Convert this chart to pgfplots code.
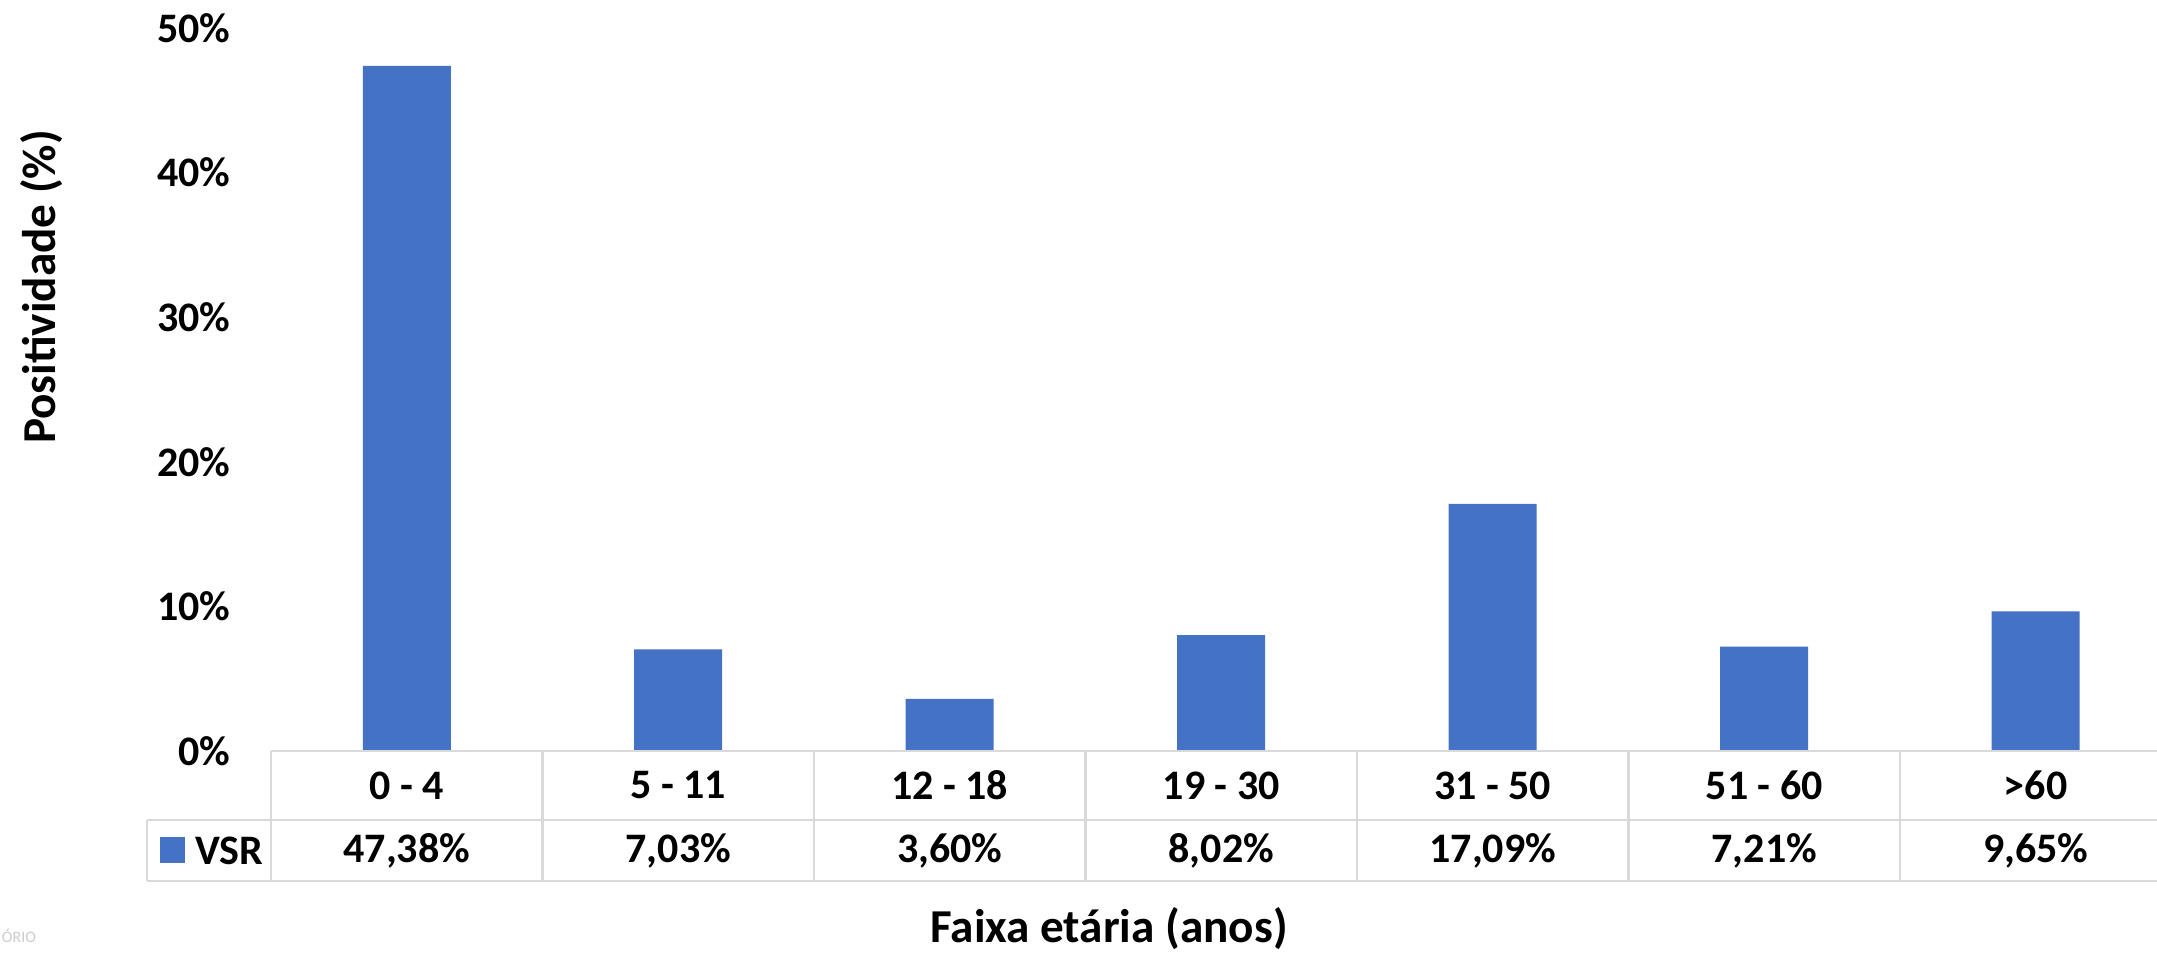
\documentclass[border=0pt]{standalone}
\usepackage{fontspec}
\setmainfont{Carlito}
\usepackage{pgfplots}
\usepackage{pgfplotstable}
\pgfplotsset{compat=1.18}
\definecolor{vsr}{HTML}{4472C4}
\definecolor{grade}{HTML}{D9D9D9}

% positividade VSR por faixa etaria
\pgfplotstableread{
x v
0 47.38
1 7.03
2 3.60
3 8.02
4 17.09
5 7.21
6 9.65
}\dados

\newcommand{\rot}{\fontsize{10.5}{12}\selectfont\bfseries}
\newcommand{\tit}{\fontsize{11.8}{14}\selectfont\bfseries}

\begin{document}
\begin{tikzpicture}[x=1pt,y=1pt]
\useasboundingbox (0,0) rectangle (539.25,238.25);
\begin{axis}[at={(67.75pt,50.5pt)},anchor=south west,scale only axis,
  width=475.125pt,height=180.75pt,
  xmin=-0.5,xmax=6.5,ymin=0,ymax=50,clip=false,
  axis line style={draw=none},major tick length=0pt,
  xtick={0,...,6},
  xticklabels={0 - 4,5 - 11,12 - 18,19 - 30,31 - 50,51 - 60,>60},
  xticklabel style={anchor=center,yshift=-8.625pt,font=\rot},
  ytick={0,10,...,50},
  yticklabel={\pgfmathprintnumber{\tick}\%},
  /pgf/number format/assume math mode=true,
  yticklabel style={anchor=east,inner sep=0pt,xshift=-10pt,font=\rot}]
  \addplot[ybar,bar width=22pt,fill=vsr,draw=none] table[x=x,y=v] {\dados};
  \addplot[draw=none,mark=none,point meta=\thisrow{v},
    nodes near coords={\pgfmathprintnumber[fixed,fixed zerofill,precision=2,use comma]{\pgfplotspointmeta}\%},
    every node near coord/.style={anchor=center,yshift=-24.875pt,font=\rot,text=black}]
    table[x=x,y expr=0] {\dados};
\end{axis}
% tabela de dados
\begin{scope}[grade,line width=0.6pt]
  \draw (67.75,50.5) -- (539.25,50.5);
  \draw (36.75,33.25) -- (539.25,33.25);
  \draw (36.75,18) -- (539.25,18);
  \draw (36.75,33.25) -- (36.75,18);
  \foreach \k in {0,...,6} {
    \draw ({67.75+\k*67.875},50.5) -- ({67.75+\k*67.875},18);
  }
\end{scope}
\fill[vsr] (40,22.5) rectangle (46.25,29);
\node[anchor=west,inner sep=0pt,font=\rot] at (48.6,25.625) {VSR};
\node[anchor=base,font=\tit] at (277.25,2.6) {Faixa etária (anos)};
\node[rotate=90,anchor=base,font=\tit] at (13.75,166.5) {Positividade (\%)};
\node[anchor=base west,inner sep=0pt,text=black!20,font=\fontsize{4}{5}\selectfont] at (0.3,2.6) {ÓRIO};
\end{tikzpicture}
\end{document}
